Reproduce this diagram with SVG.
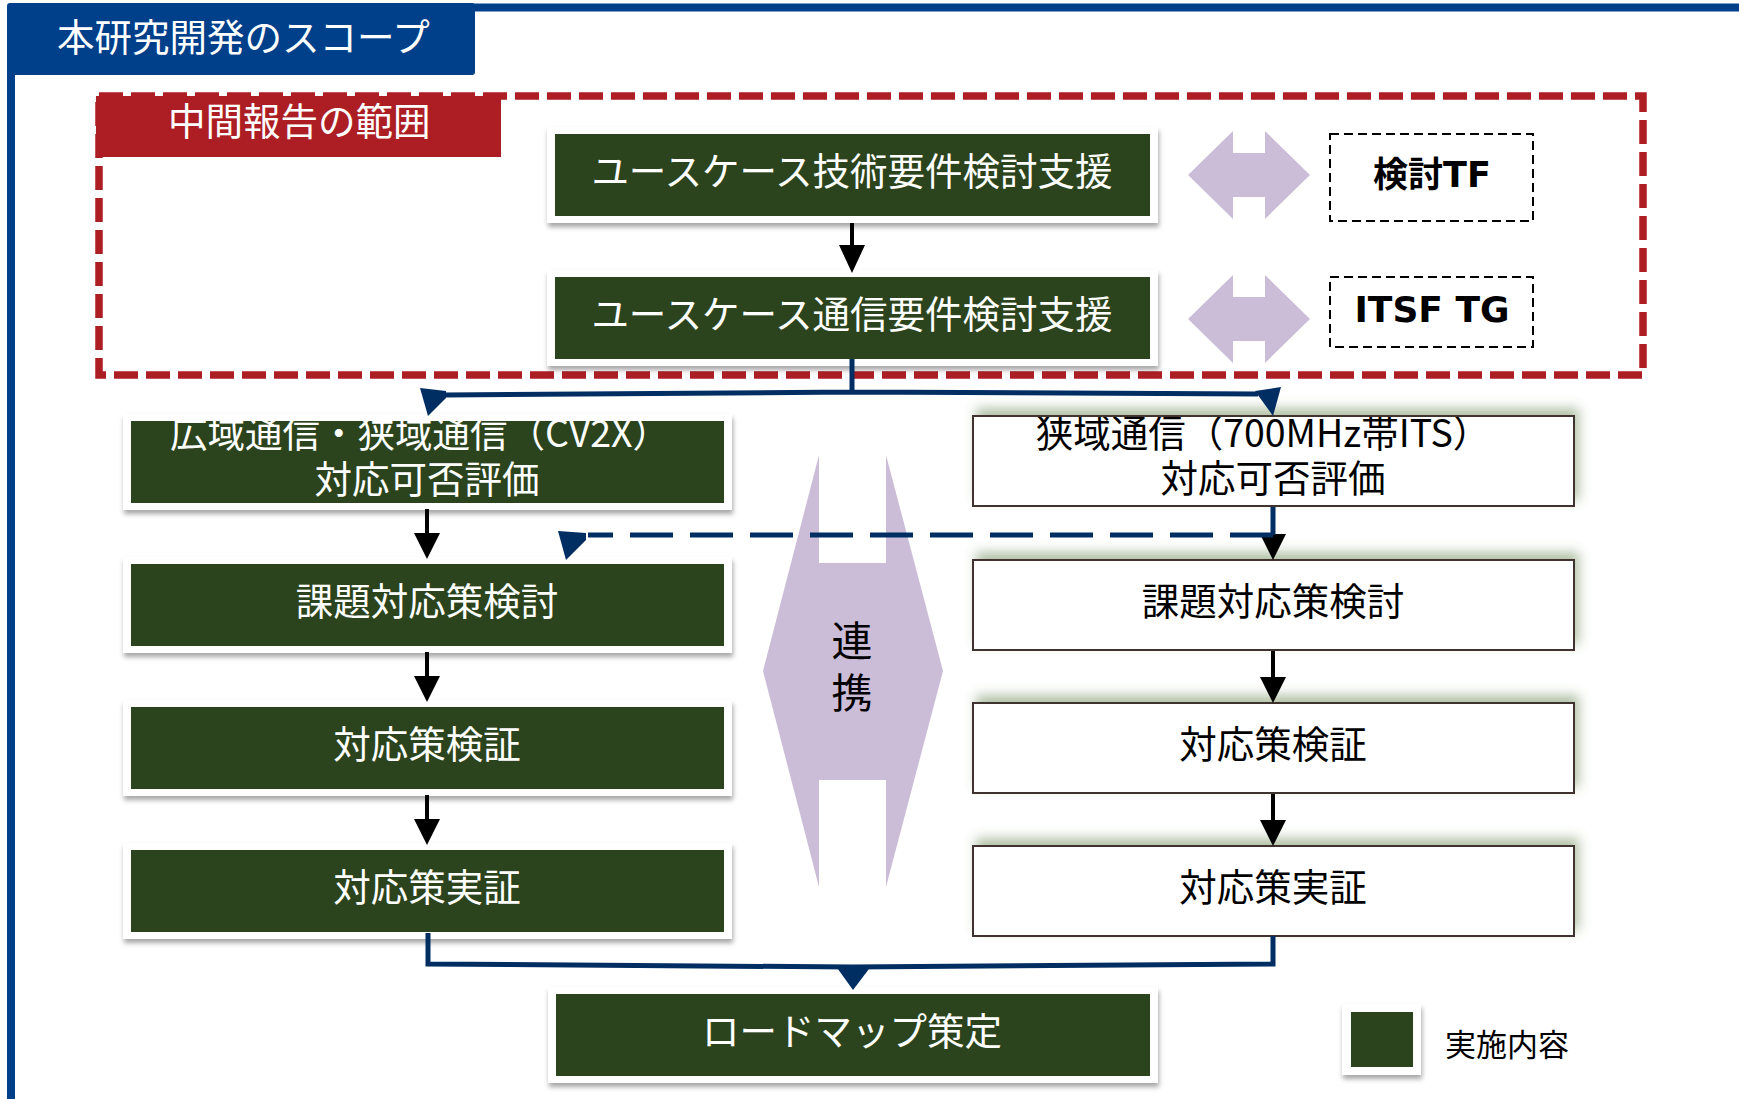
<svg xmlns="http://www.w3.org/2000/svg" width="1739" height="1099" viewBox="0 0 1739 1099">
<defs>
<style>
.jp{font-family:"Noto Sans CJK JP","Noto Sans",sans-serif;}
.gbox{fill:#2C441D;}
.frame{fill:#ffffff;filter:url(#sh);}
.wbox{fill:#ffffff;stroke:#3F302D;stroke-width:2;}
.wt{fill:#ffffff;font-size:37.5px;text-anchor:middle;}
.bt{fill:#000000;font-size:37.5px;text-anchor:middle;}
.lav{fill:#CBBDD7;}
.blk{stroke:#000;stroke-width:4;fill:none;}
.nav{stroke:#002D62;stroke-width:5;fill:none;}
.tg{fill:none;stroke:#000;stroke-width:2;stroke-dasharray:9 5;}
.bold{font-family:"DejaVu Sans","Noto Sans CJK JP",sans-serif;font-weight:bold;fill:#000;text-anchor:middle;}
</style>
<filter id="sh" x="-10%" y="-20%" width="120%" height="150%">
<feDropShadow dx="1" dy="4" stdDeviation="2.5" flood-color="#000" flood-opacity="0.35"/>
</filter>
<filter id="glow" x="-10%" y="-40%" width="125%" height="170%">
<feDropShadow dx="4" dy="-7" stdDeviation="6" flood-color="#55773A" flood-opacity="0.45"/>
</filter>
<clipPath id="cA"><rect x="131" y="421" width="593" height="82"/></clipPath>
<clipPath id="cA2"><rect x="973" y="417" width="601" height="89"/></clipPath>
</defs>

<g id="outer-frame">
<rect x="11" y="7.5" width="1760" height="1120" rx="4" fill="none" stroke="#003F8A" stroke-width="8"/>
<rect x="7" y="3" width="468" height="72" rx="3" fill="#003F8A"/>
<text class="jp" x="57" y="51" font-size="37.5" fill="#fff">本研究開発のスコープ</text>
</g>

<g id="interim-scope">
<rect x="99" y="96" width="1544" height="279" fill="none" stroke="#AD1E24" stroke-width="7.5" stroke-dasharray="24 8"/>
<rect x="96" y="96" width="405" height="61" fill="#AD1E24"/>
<text class="jp" x="168" y="135" font-size="37.5" fill="#fff">中間報告の範囲</text>
</g>

<g id="box-usecase-tech">
<rect class="frame" x="547" y="127" width="611" height="96"/>
<rect class="gbox" x="555" y="134" width="595" height="82"/>
<text class="jp wt" x="852" y="185">ユースケース技術要件検討支援</text>
</g>
<g id="box-usecase-comm">
<rect class="frame" x="547" y="270" width="611" height="96"/>
<rect class="gbox" x="555" y="277" width="595" height="82"/>
<text class="jp wt" x="852" y="328">ユースケース通信要件検討支援</text>
</g>

<g id="arrow-tf">
<path class="lav" d="M1188,175 L1233,131 L1233,153 L1265,153 L1265,131 L1310,175 L1265,219 L1265,197 L1233,197 L1233,219 Z"/>
</g>
<g id="arrow-itsf">
<path class="lav" d="M1188,319 L1233,275 L1233,297 L1265,297 L1265,275 L1310,319 L1265,363 L1265,341 L1233,341 L1233,363 Z"/>
</g>
<g id="node-tf">
<rect class="tg" x="1330" y="134" width="203" height="87"/>
<text class="bold" x="1432" y="187" font-size="35">検討TF</text>
</g>
<g id="node-itsf">
<rect class="tg" x="1330" y="277" width="203" height="70"/>
<text class="bold" x="1432" y="322" font-size="36">ITSF TG</text>
</g>

<g id="left-A">
<rect class="frame" x="123" y="414" width="609" height="96"/>
<rect class="gbox" x="131" y="421" width="593" height="82"/>
<text class="jp wt" clip-path="url(#cA)"><tspan x="420" y="447">広域通信・狭域通信（CV2X）</tspan><tspan x="427" y="493">対応可否評価</tspan></text>
</g>
<g id="left-B">
<rect class="frame" x="123" y="557" width="609" height="96"/>
<rect class="gbox" x="131" y="564" width="593" height="82"/>
<text class="jp wt" x="427" y="615">課題対応策検討</text>
</g>
<g id="left-C">
<rect class="frame" x="123" y="700" width="609" height="96"/>
<rect class="gbox" x="131" y="707" width="593" height="82"/>
<text class="jp wt" x="427" y="758">対応策検証</text>
</g>
<g id="left-D">
<rect class="frame" x="123" y="843" width="609" height="96"/>
<rect class="gbox" x="131" y="850" width="593" height="82"/>
<text class="jp wt" x="427" y="901">対応策実証</text>
</g>

<g id="right-A">
<rect class="wbox" x="973" y="416" width="601" height="90" filter="url(#glow)"/>
<text class="jp bt" clip-path="url(#cA2)"><tspan x="1263" y="447">狭域通信（700MHz帯ITS）</tspan><tspan x="1273" y="492">対応可否評価</tspan></text>
</g>
<g id="right-B">
<rect class="wbox" x="973" y="560" width="601" height="90" filter="url(#glow)"/>
<text class="jp bt" x="1273" y="615">課題対応策検討</text>
</g>
<g id="right-C">
<rect class="wbox" x="973" y="703" width="601" height="90" filter="url(#glow)"/>
<text class="jp bt" x="1273" y="758">対応策検証</text>
</g>
<g id="right-D">
<rect class="wbox" x="973" y="846" width="601" height="90" filter="url(#glow)"/>
<text class="jp bt" x="1273" y="901">対応策実証</text>
</g>

<g id="renkei">
<path class="lav" d="M763,671 L819,455 L819,563 L886,563 L886,455 L943,671 L886,887 L886,780 L819,780 L819,887 Z"/>
<text class="jp" x="852" y="620" font-size="41" fill="#000" writing-mode="vertical-rl" letter-spacing="11">連携</text>
</g>

<g id="box-roadmap">
<rect class="frame" x="548" y="987" width="610" height="96"/>
<rect class="gbox" x="556" y="994" width="594" height="82"/>
<text class="jp wt" x="852" y="1045">ロードマップ策定</text>
</g>

<g id="legend">
<rect class="frame" x="1342" y="1004" width="79" height="71"/>
<rect class="gbox" x="1351" y="1012" width="62" height="55"/>
<text class="jp" x="1445" y="1056" font-size="31" fill="#000">実施内容</text>
</g>

<g id="connectors">
<line class="blk" x1="852" y1="223" x2="852" y2="248"/>
<polygon points="839,245 865,245 852,273" fill="#000"/>
<line class="blk" x1="427" y1="509" x2="427" y2="536"/>
<polygon points="414,533 440,533 427,559" fill="#000"/>
<line class="blk" x1="427" y1="652" x2="427" y2="679"/>
<polygon points="414,676 440,676 427,702" fill="#000"/>
<line class="blk" x1="427" y1="795" x2="427" y2="822"/>
<polygon points="414,819 440,819 427,845" fill="#000"/>
<line class="blk" x1="1273" y1="507" x2="1273" y2="537"/>
<polygon points="1260,534 1286,534 1273,560" fill="#000"/>
<line class="blk" x1="1273" y1="651" x2="1273" y2="680"/>
<polygon points="1260,677 1286,677 1273,703" fill="#000"/>
<line class="blk" x1="1273" y1="794" x2="1273" y2="823"/>
<polygon points="1260,820 1286,820 1273,846" fill="#000"/>

<path class="nav" d="M852,359 L852,392 M852,392 L445,395 M852,392 L1258,394"/>
<polygon points="420,388 446,391 446,398 428,416" fill="#002D62"/>
<polygon points="1255,391 1281,387 1273,416" fill="#002D62"/>

<path class="nav" d="M1273,507 L1273,535"/>
<path class="nav" d="M1273,535 L588,535" stroke-dasharray="43 17"/>
<polygon points="558,531 586,533 586,540 566,560" fill="#002D62"/>

<path class="nav" d="M428,933 L428,964 L852,967 L1273,964 L1273,936"/>
<polygon points="835,965 872,965 853,990" fill="#002D62"/>
</g>
</svg>
